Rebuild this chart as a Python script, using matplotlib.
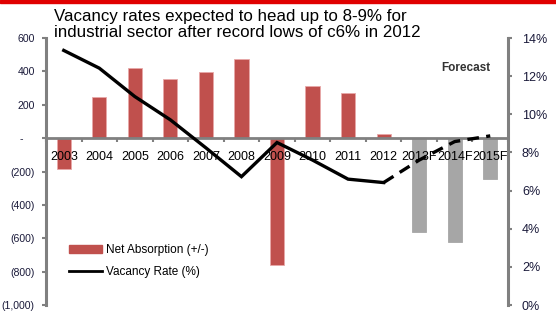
import matplotlib.pyplot as plt
import numpy as np
from matplotlib.patches import Rectangle
from matplotlib.lines import Line2D
from matplotlib.patches import Patch

years = ['2003', '2004', '2005', '2006', '2007', '2008', '2009', '2010',
         '2011', '2012', '2013F', '2014F', '2015F']
absorption = [-185, 245, 418, 354, 396, 474, -758, 312, 268, 22, -562, -622, -244]
vacancy = [13.35, 12.42, 10.93, 9.71, 8.24, 6.73, 8.52, 7.6, 6.6, 6.42, 7.6, 8.57, 8.87]
n_actual = 10  # 2003-2012 actual, rest forecast

left_ticks = [600, 400, 200, 0, -200, -400, -600, -800, -1000]
left_labels = ['600', '400', '200', '-', '(200)', '(400)', '(600)', '(800)', '(1,000)']
right_ticks = [0, 2, 4, 6, 8, 10, 12, 14]

red = '#C0504D'
grey = '#A6A6A6'
axis_grey = '#808080'
label_col = '#1a1a3a'

plt.rcParams['font.family'] = ['Liberation Sans', 'DejaVu Sans']

fig = plt.figure(figsize=(5.56, 3.25), dpi=100)
fig.patches.append(Rectangle((0, 0.991), 1, 0.009, transform=fig.transFigure,
                             color='#E00000', zorder=0))

ax = fig.add_axes([0.0827, 0.0615, 0.831, 0.8215])
x = np.arange(len(years))
colors = [red] * n_actual + [grey] * (len(years) - n_actual)
ax.bar(x, absorption, width=0.4, color=colors, edgecolor=['#E8A8A8'] * n_actual + [grey] * 3,
       linewidth=0.6, zorder=2)
ax.set_xlim(-0.5, len(years) - 0.5)
ax.set_ylim(-1000, 600)
ax.set_yticks(left_ticks)
ax.set_yticklabels(left_labels)
ax.set_axisbelow(False)

for s in ['top', 'right']:
    ax.spines[s].set_visible(False)
ax.spines['left'].set_color(axis_grey)
ax.spines['left'].set_linewidth(2.2)
ax.spines['bottom'].set_position(('data', 0))
ax.spines['bottom'].set_color(axis_grey)
ax.spines['bottom'].set_linewidth(2)
ax.spines['bottom'].set_zorder(3)

ax.set_xticks(np.arange(-0.5, len(years), 1))
ax.set_xticklabels([])
ax.set_xticks(x, minor=True)
ax.set_xticklabels(years, minor=True)
ax.tick_params(axis='x', which='major', length=3, width=1.5, color=axis_grey, direction='out')
ax.tick_params(axis='x', which='minor', length=0, pad=9, labelsize=9, labelcolor='black')
ax.tick_params(axis='y', length=3, width=1.5, color=axis_grey, labelsize=7.6,
               labelcolor=label_col, pad=5)
ax.get_yticklabels()[3].set_x(-0.025)

ax2 = ax.twinx()
ax2.set_ylim(0, 14)
ax2.set_yticks(right_ticks)
ax2.set_yticklabels([f'{v}%' for v in right_ticks])
for s in ['top', 'left', 'bottom']:
    ax2.spines[s].set_visible(False)
ax2.spines['right'].set_color(axis_grey)
ax2.spines['right'].set_linewidth(2.2)
ax2.tick_params(axis='y', length=3, width=1.5, color=axis_grey, labelsize=9,
                labelcolor=label_col, pad=7)

ax2.plot(x[:n_actual], vacancy[:n_actual], color='black', lw=2.4,
         solid_joinstyle='miter', zorder=4)
ax2.plot(x[n_actual - 1:], vacancy[n_actual - 1:], color='black', lw=2.4,
         dashes=(3.5, 2.2), zorder=4)

fig.text(0.097, 0.973, 'Vacancy rates expected to head up to 8-9% for\n'
         'industrial sector after record lows of c6% in 2012',
         ha='left', va='top', fontsize=12.2, linespacing=1.12)

ax2.text(0.962, 0.888, 'Forecast', transform=ax.transAxes, ha='right', va='center',
         fontsize=8.5, fontweight='bold', color='#333333')

handles = [Patch(facecolor=red, edgecolor=red),
           Line2D([], [], color='black', lw=2)]
ax.legend(handles, ['Net Absorption (+/-)', 'Vacancy Rate (%)'],
          loc='lower left', bbox_to_anchor=(0.027, 0.06), frameon=False,
          fontsize=8.5, handlelength=2.8, handleheight=0.6, labelspacing=0.85,
          handletextpad=0.3)

fig.savefig('out.png', dpi=100)
